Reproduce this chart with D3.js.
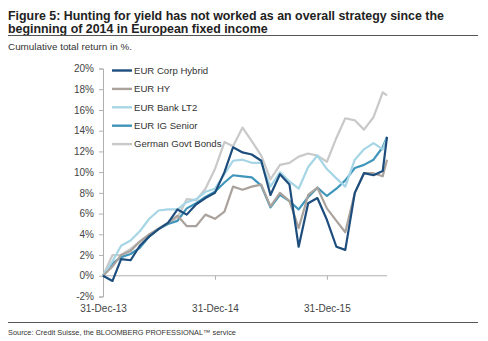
<!DOCTYPE html>
<html>
<head>
  <meta charset="utf8">
  <style type="text/css">
    body { margin: 0; background: #fff; font-family: "Liberation Sans", Arial, sans-serif; }
    .axis path, .axis line { stroke: #b0b0b0; }
    .axis text { fill: #444; font-size: 10px; font-family: "Liberation Sans", Arial, sans-serif; }
    .legend text { fill: #333; font-size: 9.6px; }
  </style>
</head>
<body>

<script src="https://d3js.org/d3.v7.min.js"></script>

<script type="text/javascript">

var width = 488, height = 341;

// month-end dates Dec-13 .. Jun-16, then one mid-July point
var dates = d3.range(0, 31).map(function(i) {
  return new Date(2014, i, 0)
}).concat([new Date(2016, 6, 14)])

var seriesNames = ['EUR Corp Hybrid', 'EUR HY', 'EUR Bank LT2', 'EUR IG Senior', 'German Govt Bonds']

var corpHybrid = [0, -0.5, 1.6, 1.5, 2.9, 3.8, 4.5, 5.1, 6.4, 5.9, 6.9, 7.5, 8.0, 10.0, 12.4, 11.9, 11.7, 11.1,
  7.8, 9.8, 8.8, 2.8, 7.0, 7.5, 5.4, 2.8, 2.5, 8.0, 9.9, 9.7, 10.1, 13.4]
var eurHY = [0, 0.9, 2.0, 2.4, 3.3, 4.0, 4.5, 5.1, 5.8, 4.8, 4.8, 5.9, 5.5, 6.2, 8.6, 8.3, 8.6, 8.8,
  6.7, 8.0, 7.2, 4.6, 7.8, 8.5, 6.5, 5.3, 4.2, 8.0, 9.9, 9.9, 9.6, 11.2]
var bankLT2 = [0, 1.4, 2.9, 3.4, 4.3, 5.5, 6.3, 6.4, 6.4, 7.1, 7.4, 8.1, 8.4, 9.8, 11.1, 11.2, 10.9, 10.9,
  8.6, 10.0, 9.1, 8.4, 10.5, 11.6, 10.3, 9.4, 8.6, 11.2, 12.2, 12.8, 12.2, 13.3]
var igSenior = [0, 1.2, 1.8, 2.1, 2.7, 3.8, 4.5, 5.0, 5.3, 6.5, 7.0, 7.6, 8.1, 9.0, 9.7, 9.6, 9.5, 8.7,
  6.6, 7.8, 7.2, 6.4, 7.6, 8.5, 7.7, 8.4, 9.2, 10.4, 10.7, 11.2, 12.4, 13.4]
var germanGovt = [0, 2.0, 2.0, 2.6, 3.3, 4.0, 4.6, 5.1, 5.6, 7.4, 7.3, 8.4, 10.3, 12.9, 12.5, 14.3, 13.0, 11.6,
  9.3, 10.7, 10.9, 11.5, 11.8, 11.6, 11.0, 13.3, 15.2, 15.0, 14.1, 15.3, 17.7, 17.4]

var yTicks = [-2, 0, 2, 4, 6, 8, 10, 12, 14, 16, 18, 20]
var xTicks = [new Date(2013, 11, 31), new Date(2014, 11, 31), new Date(2015, 11, 31)]

var colors = ['#1d4d7c', '#aaa29c', '#a6d6e6', '#3f95ba', '#c9c9c9']

var values = [corpHybrid, eurHY, bankLT2, igSenior, germanGovt]
var series = seriesNames.map(function(name, i) {
  return { name: name, color: colors[i], points: values[i].map(function(v, j) { return [dates[j], v] }) }
})

var svg = d3.select('body').append('svg')
  .attr('width', width)
  .attr('height', height)

// header
var title = svg.append('g').attr('font-weight', 'bold').attr('font-size', 12.4).attr('fill', '#222')
title.append('text').attr('x', 8).attr('y', 19.5)
  .text('Figure 5: Hunting for yield has not worked as an overall strategy since the')
title.append('text').attr('x', 8).attr('y', 32.5)
  .text('beginning of 2014 in European fixed income')

svg.append('line').attr('x1', 8).attr('x2', 478).attr('y1', 35.5).attr('y2', 35.5)
  .attr('stroke', '#555').attr('stroke-width', 1)

svg.append('text').attr('x', 8).attr('y', 49.5).attr('font-size', 9.9).attr('fill', '#333')
  .text('Cumulative total return in %.')

// scales
var x = d3.scaleTime()
  .domain([new Date(2013, 11, 31), new Date(2016, 6, 14)])
  .range([103, 387])

var y = d3.scaleLinear()
  .domain([-2, 20])
  .range([296.5, 68.5])

// y axis
svg.append('g')
  .attr('class', 'axis')
  .attr('transform', 'translate(103,0)')
  .call(d3.axisLeft(y).tickValues(yTicks).tickSize(4).tickPadding(5)
    .tickFormat(function(d) { return d + '%' }))

// x axis along zero line, labels at bottom
var xAxis = svg.append('g')
  .attr('class', 'axis')
  .attr('transform', 'translate(0,' + y(0) + ')')
  .call(d3.axisBottom(x).tickValues(xTicks).tickSize(4).tickSizeOuter(0)
    .tickFormat(d3.timeFormat('%d-%b-%y')))

xAxis.selectAll('text').attr('y', 29)
xAxis.select('.domain').attr('d', 'M103,0H387')

// lines
var line = d3.line()
  .x(function(d) { return x(d[0]) })
  .y(function(d) { return y(d[1]) })

svg.append('g').selectAll('path')
  .data(series.slice().reverse())
  .enter()
  .append('path')
  .attr('d', function(d) { return line(d.points) })
  .attr('fill', 'none')
  .attr('stroke', function(d) { return d.color })
  .attr('stroke-width', 2.2)
  .attr('stroke-linejoin', 'round')

// legend
var legend = svg.append('g').attr('class', 'legend')
  .selectAll('g')
  .data(series)
  .enter()
  .append('g')
  .attr('transform', function(d, i) { return 'translate(112,' + (70.5 + i * 18.4) + ')' })

legend.append('line')
  .attr('x1', 0).attr('x2', 20)
  .attr('stroke', function(d) { return d.color })
  .attr('stroke-width', 2.4)

legend.append('text')
  .attr('x', 22)
  .attr('dy', '0.35em')
  .text(function(d) { return d.name })

// footer
svg.append('line').attr('x1', 8).attr('x2', 478).attr('y1', 322.5).attr('y2', 322.5)
  .attr('stroke', '#555').attr('stroke-width', 1)

svg.append('text').attr('x', 8).attr('y', 335).attr('font-size', 7.4).attr('fill', '#333')
  .text('Source: Credit Suisse, the BLOOMBERG PROFESSIONAL\u2122 service')

</script>

</body>
</html>
